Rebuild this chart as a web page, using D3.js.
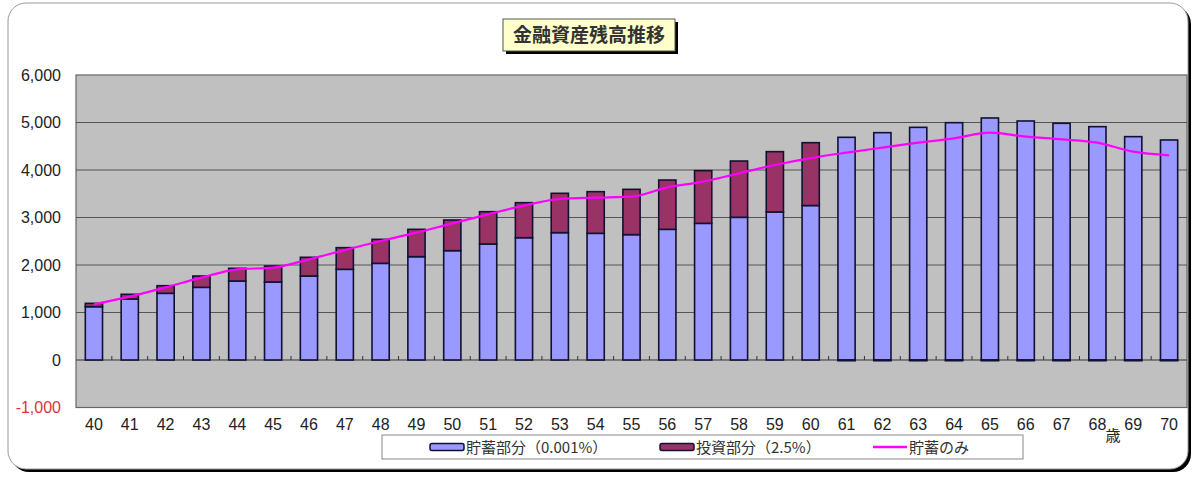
<!DOCTYPE html>
<html lang="ja">
<head>
<meta charset="utf-8">
<title>金融資産残高推移</title>
<script src="https://cdn.jsdelivr.net/npm/d3@7"></script>
<style>
  body { margin: 0; background: #ffffff; }
  svg text { font-family: "Liberation Sans", Arial, sans-serif; }
  .jp { font-family: "Noto Sans CJK JP", sans-serif; }
</style>
</head>
<body>
<script>
// ages on the x axis
var ages = [40,41,42,43,44,45,46,47,48,49,50,51,52,53,54,55,56,57,58,59,60,61,62,63,64,65,66,67,68,69,70];
// 貯蓄部分 (0.001%)
var savings = [1122,1284,1404,1530,1663,1642,1768,1909,2035,2175,2302,2442,2575,2681,2667,2639,2751,2877,3004,3116,3252,
               4688,4786,4898,4996,5095,5032,4983,4912,4702,4632];
// 投資部分 (2.5%)
var invest = [71,99,160,238,267,337,394,456,505,576,645,680,737,828,877,954,1038,1109,1185,1270,1323,
              -15,-15,-15,-15,-15,-15,-15,-15,-15,-15];
// 貯蓄のみ
var savingsOnly = [1172,1333,1530,1733,1909,1944,2119,2316,2505,2681,2877,3067,3249,3389,3418,3439,3635,3754,3930,4105,4250,
                   4365,4470,4575,4667,4786,4702,4646,4575,4386,4309];
var yTicks = [-1000,0,1000,2000,3000,4000,5000,6000];

var w = 1200, h = 485;
var plot = {left: 76, right: 1187, top: 75, bottom: 407.5};

var svg = d3.select("body").append("svg")
  .attr("width", w)
  .attr("height", h);

//outer frame with shadow
svg.append("rect")
  .attr("x", 11).attr("y", 6).attr("width", 1180).attr("height", 466)
  .attr("rx", 18).attr("fill", "#000");
svg.append("rect")
  .attr("x", 8).attr("y", 3).attr("width", 1180).attr("height", 466)
  .attr("rx", 18).attr("fill", "#fff").attr("stroke", "#999").attr("stroke-width", 1);

var xScale = d3.scaleBand()
  .domain(ages)
  .range([plot.left, plot.right])
  .paddingInner(0.52)
  .paddingOuter(0.26);

var yScale = d3.scaleLinear()
  .domain([-1000, 6000])
  .range([plot.bottom, plot.top]);

//plot area
svg.append("rect")
  .attr("x", plot.left).attr("y", plot.top)
  .attr("width", plot.right - plot.left).attr("height", plot.bottom - plot.top)
  .attr("fill", "#c0c0c0").attr("stroke", "#666").attr("stroke-width", 1.2);

//gridlines
svg.selectAll("line.grid")
  .data(yTicks.filter(function(d) { return d > -1000 && d < 6000; }))
  .enter().append("line")
  .attr("class", "grid")
  .attr("x1", plot.left).attr("x2", plot.right)
  .attr("y1", function(d) { return yScale(d); })
  .attr("y2", function(d) { return yScale(d); })
  .attr("stroke", function(d) { return d === 0 ? "#333" : "#555"; })
  .attr("stroke-width", 1.2);

//y axis labels
var yAxis = d3.axisLeft(yScale)
  .tickValues(yTicks)
  .tickSize(0)
  .tickPadding(15)
  .tickFormat(d3.format(","));
var yg = svg.append("g")
  .attr("transform", "translate(" + plot.left + ",0)")
  .call(yAxis);
yg.select(".domain").remove();
yg.selectAll("text")
  .attr("font-size", "16px")
  .attr("font-family", "Liberation Sans, Arial, sans-serif")
  .attr("fill", function(d) { return d < 0 ? "#e0323c" : "#222"; })
  .text(function(d) { return d < 0 ? "-" + d3.format(",")(-d) : d3.format(",")(d); });

//stacked bars
var table = ages.map(function(a, i) {
  return {age: a, savings: savings[i], invest: invest[i]};
});
var stack = d3.stack()
  .keys(["savings", "invest"])
  .offset(d3.stackOffsetDiverging);
var series = stack(table);
var colors = {savings: "#9999ff", invest: "#993366"};

svg.selectAll("g.series")
  .data(series)
  .enter().append("g")
  .attr("class", "series")
  .attr("fill", function(d) { return colors[d.key]; })
  .selectAll("rect")
  .data(function(d) { return d; })
  .enter().append("rect")
  .attr("x", function(d) { return xScale(d.data.age); })
  .attr("width", xScale.bandwidth())
  .attr("y", function(d) { return yScale(Math.max(d[0], d[1])); })
  .attr("height", function(d) { return Math.abs(yScale(d[0]) - yScale(d[1])); })
  .attr("stroke", "#111133")
  .attr("stroke-width", 1.6);

//x axis tick marks on zero line, at band boundaries
var gap = (xScale.step() - xScale.bandwidth()) / 2;
svg.selectAll("line.xtick")
  .data(ages.slice(1))
  .enter().append("line")
  .attr("class", "xtick")
  .attr("x1", function(d) { return xScale(d) - gap; })
  .attr("x2", function(d) { return xScale(d) - gap; })
  .attr("y1", yScale(0))
  .attr("y2", yScale(0) - 4)
  .attr("stroke", "#333");

//x labels
var xAxis = d3.axisBottom(xScale).tickSize(0).tickPadding(0);
var xg = svg.append("g")
  .attr("transform", "translate(0," + (plot.bottom + 11) + ")")
  .call(xAxis);
xg.select(".domain").remove();
xg.selectAll("text")
  .attr("font-size", "16px")
  .attr("font-family", "Liberation Sans, Arial, sans-serif")
  .attr("fill", "#222");

svg.append("text")
  .attr("class", "jp")
  .attr("x", 1113).attr("y", 441)
  .attr("text-anchor", "middle")
  .attr("font-size", "15px")
  .attr("fill", "#222")
  .text("歳");

//savings-only line
var line = d3.line()
  .x(function(d, i) { return xScale(ages[i]) + xScale.bandwidth() / 2; })
  .y(function(d) { return yScale(d); })
  .curve(d3.curveMonotoneX);
svg.append("path")
  .datum(savingsOnly)
  .attr("d", line)
  .attr("fill", "none")
  .attr("stroke", "#ff00ff")
  .attr("stroke-width", 2.2);

//title box
svg.append("rect")
  .attr("x", 506).attr("y", 22).attr("width", 172).attr("height", 32)
  .attr("fill", "#000");
svg.append("rect")
  .attr("x", 503).attr("y", 19).attr("width", 172).attr("height", 32)
  .attr("fill", "#ffffcc").attr("stroke", "#555").attr("stroke-width", 1);
svg.append("text")
  .attr("class", "jp")
  .attr("x", 589).attr("y", 42)
  .attr("text-anchor", "middle")
  .attr("font-size", "19px")
  .attr("font-weight", "bold")
  .attr("fill", "#333")
  .text("金融資産残高推移");

//legend
var legendNames = ["貯蓄部分（0.001%）", "投資部分（2.5%）", "貯蓄のみ"];
var legendX = [430, 660, 873];
svg.append("rect")
  .attr("x", 382).attr("y", 435).attr("width", 641).attr("height", 24)
  .attr("fill", "#fff").attr("stroke", "#888");
var lg = svg.selectAll("g.legend")
  .data(legendNames)
  .enter().append("g")
  .attr("class", "legend")
  .attr("transform", function(d, i) { return "translate(" + legendX[i] + ",447)"; });
lg.each(function(d, i) {
  var g = d3.select(this);
  if (i < 2) {
    g.append("rect")
      .attr("x", 0).attr("y", -3.5).attr("width", 34).attr("height", 7)
      .attr("rx", 2)
      .attr("fill", i === 0 ? colors.savings : colors.invest)
      .attr("stroke", "#111133").attr("stroke-width", 1.5);
  } else {
    g.append("line")
      .attr("x1", 0).attr("x2", 34).attr("y1", 0).attr("y2", 0)
      .attr("stroke", "#ff00ff").attr("stroke-width", 2.5);
  }
  g.append("text")
    .attr("class", "jp")
    .attr("x", 36).attr("y", 5.5)
    .attr("font-size", "15px")
    .attr("fill", "#333")
    .text(d);
});
</script>
</body>
</html>
